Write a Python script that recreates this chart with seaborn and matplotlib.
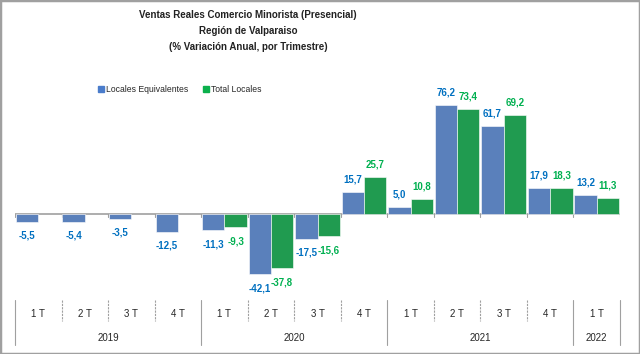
import numpy as np
import pandas as pd
import seaborn as sns
import matplotlib.pyplot as plt
from matplotlib.patches import Rectangle

trimestres = ["1 T", "2 T", "3 T", "4 T"] * 3 + ["1 T"]
anios = ["2019"] * 4 + ["2020"] * 4 + ["2021"] * 4 + ["2022"]
locales_equivalentes = [-5.5, -5.4, -3.5, -12.5, -11.3, -42.1, -17.5, 15.7, 5.0, 76.2, 61.7, 17.9, 13.2]
total_locales = [np.nan, np.nan, np.nan, np.nan, -9.3, -37.8, -15.6, 25.7, 10.8, 73.4, 69.2, 18.3, 11.3]
series = ["Locales Equivalentes", "Total Locales"]
colores = {"Locales Equivalentes": "#4A7CCB", "Total Locales": "#0BB04C"}
colores_texto = {"Locales Equivalentes": "#0070C0", "Total Locales": "#00B050"}

claves = [f"{a}-{t}" for a, t in zip(anios, trimestres)]
df = pd.DataFrame({
    "periodo": claves * 2,
    "serie": [series[0]] * len(claves) + [series[1]] * len(claves),
    "valor": locales_equivalentes + total_locales,
})

sns.set_style("white")
plt.rcParams["font.family"] = ["Liberation Sans", "DejaVu Sans"]

fig = plt.figure(figsize=(6.4, 3.54), dpi=100)
ax = fig.add_axes([15 / 640, 62 / 354, 605 / 640, 232 / 354])

sns.barplot(
    data=df, x="periodo", y="valor", hue="serie", order=claves, hue_order=series,
    palette=colores, width=0.96, errorbar=None, ax=ax, legend=False,
    edgecolor="white", linewidth=0.4,
)

ax.set_ylim(-54.5, 107.7)
ax.set_xlim(-0.5, len(claves) - 0.5)
for s in ax.spines.values():
    s.set_visible(False)
ax.set_xticks([])
ax.set_yticks([])
ax.set_xlabel("")
ax.set_ylabel("")
ax.axhline(0, color="#A0A0A0", lw=1.2, zorder=0)

# etiquetas de datos
for cont, serie in zip(ax.containers, series):
    for p in cont:
        h = p.get_height()
        if np.isnan(h):
            continue
        x = p.get_x() + p.get_width() / 2
        off = 9 if h >= 0 else -10
        ax.annotate(f"{h:.1f}".replace(".", ","), (x, h), xytext=(0, off),
                    textcoords="offset points", ha="center", va="center",
                    fontsize=7, color=colores_texto[serie], fontweight="bold")

# marcas del eje y separadores
tr = ax.get_xaxis_transform()
limites = np.arange(len(claves) + 1) - 0.5
cambios_anio = [0] + [i for i in range(1, len(anios)) if anios[i] != anios[i - 1]] + [len(anios)]
for b in limites:
    ax.plot([b, b], [0, -2], color="#A0A0A0", lw=0.8, zorder=0)
    largo = -0.23 if int(b + 0.5) in cambios_anio else -0.125
    ax.plot([b, b], [-0.035, largo], transform=tr, color="#A0A0A0", lw=0.8,
            ls=(0, (2, 1)) if largo > -0.2 else "-", clip_on=False)
for i, t in enumerate(trimestres):
    ax.text(i, -0.095, t, transform=tr, ha="center", va="center", fontsize=7)
for a0, a1 in zip(cambios_anio[:-1], cambios_anio[1:]):
    ax.text((a0 + a1 - 1) / 2, -0.2, anios[a0], transform=tr, ha="center",
            va="center", fontsize=7)

# leyenda
handles = [plt.Line2D([], [], marker="s", ls="", color=colores[s], markersize=4.5) for s in series]
fig.legend(handles, series, loc="center", bbox_to_anchor=(179 / 640, 1 - 90 / 354),
           ncol=2, frameon=False, fontsize=6.2, handletextpad=0.1, handlelength=1.0,
           columnspacing=1.6)

# titulo
titulo = ["Ventas Reales Comercio Minorista (Presencial)", "Región de Valparaiso",
          "(% Variación Anual, por Trimestre)"]
for k, linea in enumerate(titulo):
    fig.text(248 / 640, 1 - (15 + 16 * k) / 354, linea, ha="center", va="center",
             fontsize=7, fontweight="bold", color="#222222")

fig.patches.append(Rectangle((0, 0), 1, 1, transform=fig.transFigure, fill=False,
                             edgecolor="#A0A0A0", lw=2.5))
fig.savefig("out.png", dpi=100)
